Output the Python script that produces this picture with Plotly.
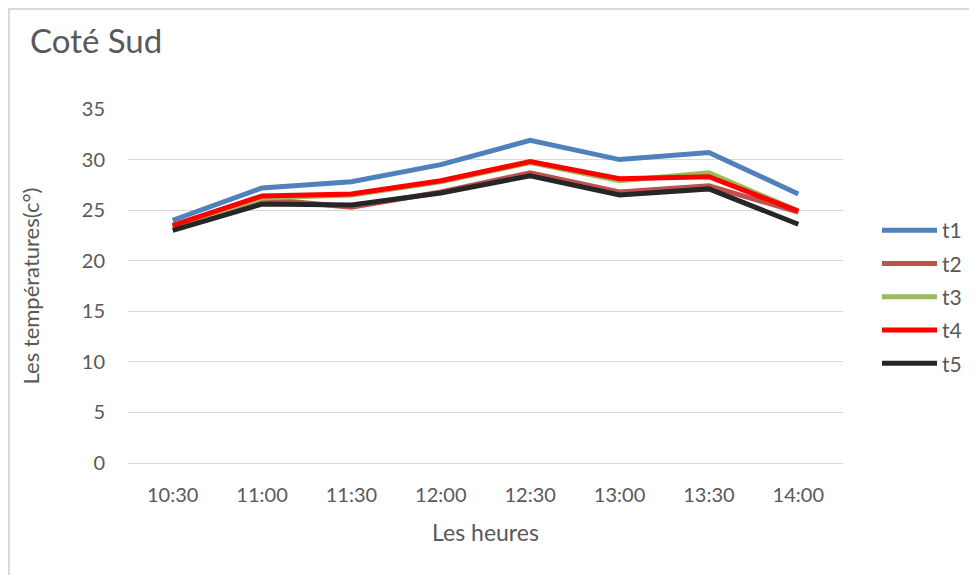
import plotly.graph_objects as go

# --- données ---
heures = ['10:30', '11:00', '11:30', '12:00', '12:30', '13:00', '13:30', '14:00']
t1 = [24.0, 27.2, 27.8, 29.5, 31.9, 30.0, 30.7, 26.6]
t2 = [23.3, 26.1, 25.3, 26.8, 28.7, 26.8, 27.4, 24.8]
t3 = [23.4, 26.2, 26.5, 27.8, 29.7, 27.9, 28.7, 24.9]
t4 = [23.5, 26.4, 26.6, 27.9, 29.8, 28.1, 28.3, 24.9]
t5 = [23.0, 25.6, 25.5, 26.7, 28.4, 26.5, 27.1, 23.6]

series = [('t1', t1, '#4F81BD'), ('t2', t2, '#C0504D'), ('t3', t3, '#9BBB59'),
          ('t4', t4, '#FF0000'), ('t5', t5, '#262626')]

FONT = 'Lato'
GREY = '#595959'

# la page html ajoute une marge de 8px autour du graphique
OFF = 8
W, H = 977, 575
L, T = 128 - OFF, 109 - OFF
R, B = W - (843 - OFF), H - (463 - OFF)
pw, ph = W - L - R, H - T - B

fig = go.Figure()
for name, vals, col in series:
    fig.add_trace(go.Scatter(x=heures, y=vals, name=name, mode='lines',
                             line=dict(color=col, width=5),
                             legendgroup=name))

fig.update_layout(
    width=W, height=H,
    margin=dict(l=L, r=R, t=T, b=B),
    paper_bgcolor='white', plot_bgcolor='white',
    font=dict(family=FONT, color=GREY, size=20),
    title=dict(text='Coté Sud', x=(30 - OFF) / W, xanchor='left',
               y=1 - (41 - OFF) / H, yanchor='middle',
               font=dict(size=33, color=GREY, family=FONT)),
    showlegend=True,
    legend=dict(x=(877 - OFF - L) / pw, xanchor='left',
                y=(H - B - (210 - OFF)) / ph, yanchor='top',
                font=dict(size=21, color=GREY, family=FONT),
                itemwidth=55, tracegroupgap=3, bgcolor='rgba(0,0,0,0)'),
    xaxis=dict(type='category', range=[-0.5, 7.5], showgrid=False, showline=False,
               zeroline=False, ticks='', ticklabelstandoff=18,
               tickfont=dict(size=20, color=GREY),
               title=dict(text='Les heures', standoff=19, font=dict(size=23, color=GREY))),
    yaxis=dict(range=[0, 35], dtick=5, showgrid=True, gridcolor='#D9D9D9', gridwidth=1.3,
               zeroline=True, zerolinecolor='#D9D9D9', zerolinewidth=1.3,
               showline=False, ticks='', ticklabelstandoff=22,
               tickfont=dict(size=20, color=GREY),
               title=dict(text='Les températures(c°)', standoff=36,
                          font=dict(size=22, color=GREY))),
)

# cadre du graphique (seuls les bords haut et gauche sont visibles)
fig.add_shape(type='rect', xref='paper', yref='paper',
              x0=(1 - L) / pw, x1=(W + 20 - L) / pw,
              y0=-(B + 20) / ph, y1=1 + (T - 1) / ph,
              line=dict(color='#D9D9D9', width=2), layer='below')

fig.write_html('out.html')
